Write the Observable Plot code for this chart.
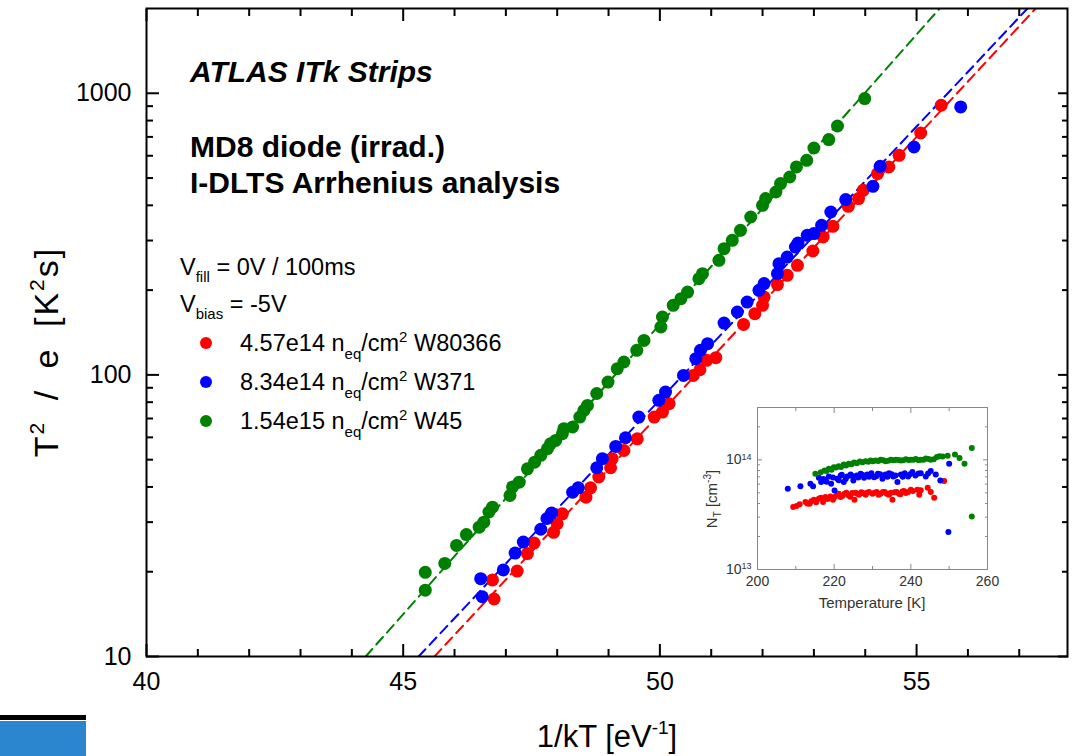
<!DOCTYPE html>
<html><head><meta charset="utf-8">
<script src="https://cdn.jsdelivr.net/npm/d3@7"></script>
<script src="https://cdn.jsdelivr.net/npm/@observablehq/plot@0.6"></script>
<style>
body{margin:0;background:#fff;font-family:"Liberation Sans",Arial,sans-serif;}
#wrap{position:relative;width:1073px;height:756px;overflow:hidden;background:#fff;}
#wrap svg{position:absolute;}
.bar1{position:absolute;left:0;top:715px;width:86px;height:5px;background:#000;}
.bar2{position:absolute;left:0;top:721px;width:86px;height:35px;background:#2c86cf;}
</style></head><body><div id="wrap"></div>
<script>
// ---- main chart data (1/kT [eV^-1], T^2/e [K^2 s]) ----
const redX = [46.77,46.74,47.22,47.42,47.55,47.93,48.00,48.10,48.56,48.65,48.81,49.04,49.07,49.30,49.56,49.89,50.05,50.18,50.65,50.78,50.91,51.09,51.63,51.85,52.00,52.03,52.29,52.48,52.68,52.98,53.18,53.37,53.67,53.87,53.96,54.24,54.46,54.66,55.08,55.48];
const redY = [16.0,18.7,20.1,23.2,25.3,27.6,29.6,32.1,36.8,39.7,43.4,46.8,50.4,53.9,59.3,70.8,73.8,79.0,99.6,104.3,112.6,115.1,151.1,165.0,176.6,189.0,209.2,225.7,244.9,275.4,308.8,336.9,396.8,422.6,452.3,518.4,547.4,602.1,722.8,906.8];
const blueX = [46.54,46.51,46.95,47.18,47.34,47.68,47.80,47.89,48.30,48.41,48.77,48.88,49.14,49.33,49.59,49.98,50.11,50.46,50.70,50.79,50.93,51.25,51.51,51.70,51.93,52.03,52.29,52.32,52.48,52.64,52.69,52.87,53.00,53.15,53.33,53.62,54.15,54.29,54.95,55.86];
const blueY = [16.3,18.9,20.3,23.3,25.5,28.3,30.9,32.3,38.3,39.7,46.8,50.4,55.7,59.8,70.8,81.2,86.9,99.6,114.2,122.2,129.1,152.8,167.2,181.4,199.6,210.9,228.8,248.3,262.1,284.4,293.9,313.1,317.5,339.7,378.8,419.4,467.3,550.5,644.5,894.1];
const greenX = [45.43,45.43,45.81,46.04,46.23,46.48,46.57,46.67,46.74,47.08,47.13,47.26,47.42,47.56,47.68,47.81,47.87,47.97,48.10,48.13,48.30,48.44,48.52,48.59,48.77,48.99,49.17,49.30,49.55,49.69,50.02,50.05,50.26,50.41,50.54,50.76,50.83,51.15,51.25,51.41,51.57,51.77,52.00,52.06,52.26,52.35,52.53,52.66,52.86,53.00,53.29,53.46,53.99];
const greenY = [17.2,19.9,21.4,24.8,27.1,28.8,30.0,32.6,33.9,37.3,40.0,41.6,46.4,49.0,51.8,54.7,57.0,58.5,61.8,64.4,65.3,70.8,74.8,77.9,85.9,94.3,105.2,111.1,122.2,132.6,147.9,160.5,176.6,186.5,196.8,219.6,228.8,255.1,280.7,300.5,326.1,363.6,400.1,422.6,446.1,477.8,504.4,547.4,578.1,639.2,684.6,765.3,957.6];
// Arrhenius fit lines: endpoints (x at y=10 and y=2000)
const fitRedX = [45.61,57.32], fitBlueX = [45.30,57.16], fitGreenX = [44.27,55.45], fitY = [10,2000];
// ticks
const xMajor = [40,45,50,55];
const xMinor = [41,42,43,44,46,47,48,49,51,52,53,54,56,57];
const yMajor = [10,100,1000];
const yMinor = [20,30,40,50,60,70,80,90,200,300,400,500,600,700,800,900];
// ---- inset data (Temperature [K], N_T [cm^-3]) ----
const insRedT = [209.3,211.0,212.5,213.6,214.7,216.0,217.1,217.7,219.0,219.7,220.8,221.7,222.7,223.8,224.7,225.3,226.0,227.1,228.2,229.1,230.0,231.1,232.1,233.2,234.3,235.2,235.8,236.9,237.8,238.7,240.0,241.7,242.2,242.6,244.4,245.2,246.1,248.7,210.2,213.0,214.0,215.3,216.5,218.3,220.2,221.2,222.2,223.2,224.2,225.6,226.5,227.6,228.6,230.5,231.6,232.7,233.7,234.8,236.3,237.3,238.2,239.3,240.5];
const insRedN = [3.71e13,3.93e13,4.12e13,3.98e13,4.33e13,4.42e13,4.12e13,4.58e13,4.63e13,4.33e13,4.81e13,4.58e13,4.9e13,4.73e13,4.98e13,4.33e13,4.9e13,5.05e13,4.81e13,5.08e13,4.9e13,5.1e13,4.9e13,5.08e13,4.81e13,4.33e13,5.05e13,4.9e13,5.15e13,4.98e13,5.33e13,5.33e13,4.81e13,5.27e13,5.56e13,5.08e13,4.51e13,6.4e13,3.8e13,4.0e13,4.2e13,4.1e13,4.5e13,4.4e13,4.6e13,4.9e13,4.7e13,5.0e13,4.6e13,5.0e13,4.8e13,4.95e13,5.0e13,5.0e13,4.8e13,5.1e13,4.9e13,5.0e13,5.1e13,4.85e13,5.2e13,5.1e13,5.2e13];
const insBlueT = [207.9,211.2,213.8,214.5,216.0,216.6,217.7,218.6,219.2,220.1,220.8,221.7,222.5,223.4,224.3,225.0,225.9,226.9,227.8,228.6,229.7,230.4,231.4,232.6,233.4,234.3,235.4,236.5,237.4,238.4,239.3,240.4,242.6,243.9,245.2,246.5,247.7,250.0,249.8,217.2,218.0,219.7,221.2,222.0,223.0,224.8,226.3,227.3,229.1,231.0,232.0,233.9,235.0,236.0,237.9,239.8,241.2,242.0,244.5];
const insBlueN = [5.45e13,5.73e13,6.05e13,5.73e13,6.86e13,6.27e13,6.49e13,7.05e13,6.05e13,5.26e13,6.71e13,7.2e13,6.27e13,7.05e13,7.35e13,6.49e13,7.2e13,7.46e13,6.86e13,7.35e13,7.56e13,6.95e13,7.46e13,6.71e13,7.35e13,7.56e13,7.05e13,6.27e13,7.35e13,7.56e13,7.05e13,7.73e13,7.56e13,7.05e13,7.89e13,7.35e13,6.49e13,9.2e13,2.2e13,6.7e13,6.3e13,6.9e13,6.5e13,7.3e13,6.7e13,7.1e13,6.9e13,7.3e13,7.0e13,7.1e13,7.4e13,7.0e13,7.4e13,7.2e13,7.0e13,7.4e13,7.2e13,7.5e13,7.5e13];
const insGreenT = [215.1,217.5,218.6,219.9,221.2,222.5,223.8,225.2,226.7,228.2,229.5,230.8,232.1,233.4,234.8,236.1,237.4,238.7,240.0,241.3,242.6,243.9,245.2,246.8,248.3,249.6,251.5,252.7,254.0,255.9,255.9,216.5,218.0,219.3,220.5,221.8,223.1,224.5,225.9,227.4,228.9,230.1,231.5,232.8,234.1,235.5,236.8,238.0,239.4,240.7,242.0,243.3,244.6,246.0,247.5];
const insGreenN = [7.46e13,8.0e13,8.28e13,8.57e13,8.76e13,9.07e13,9.2e13,9.45e13,9.65e13,9.72e13,9.86e13,9.86e13,1.0e14,9.72e13,1.0e14,1.0e14,9.86e13,1.01e14,1.0e14,1.02e14,1.0e14,1.03e14,1.0e14,1.06e14,1.07e14,1.09e14,1.12e14,1.04e14,9.2e13,1.28e14,3.05e13,7.7e13,7.9e13,8.1e13,8.5e13,8.6e13,8.9e13,9.1e13,9.3e13,9.5e13,9.6e13,9.7e13,9.75e13,9.9e13,9.8e13,9.9e13,9.95e13,9.9e13,9.95e13,1.0e14,9.9e13,1.0e14,1.02e14,1.01e14,1.08e14];
const insXMajor = [200,220,240,260], insXMinor = [210,230,250];
const insYMajor = [1e13,1e14], insYMinor = [2e13,3e13,4e13,5e13,6e13,7e13,8e13,9e13,2e14];
// ---- texts ----
const titleText = "ATLAS ITk Strips";
const subtitleLines = ["MD8 diode (irrad.)","I-DLTS Arrhenius analysis"];
const fluences = ["4.57e14","8.34e14","1.54e15"];
const wafers = ["W80366","W371","W45"];
const colors = ["#ff0000","#0000ff","#008000"];

const zip = (xs, ys) => xs.map((x, i) => ({x, y: ys[i]}));
const red = zip(redX, redY), blue = zip(blueX, blueY), green = zip(greenX, greenY);
const fits = [zip(fitRedX, fitY), zip(fitBlueX, fitY), zip(fitGreenX, fitY)];
const FONT = "'Liberation Sans', Arial, Helvetica, sans-serif";

// inward ticks: Plot axis ticks shifted inside the frame by their own length
const inX = (vals, anchor, len, stroke, sw) => Plot.axisX({anchor, ticks: vals, tickSize: len, dy: anchor === "bottom" ? -len : len, fill: "none", label: null, stroke, strokeWidth: sw});
const inY = (vals, anchor, len, stroke, sw) => Plot.axisY({anchor, ticks: vals, tickSize: len, dx: anchor === "left" ? len : -len, fill: "none", label: null, stroke, strokeWidth: sw});

const main = Plot.plot({
  width: 1073, height: 756,
  marginLeft: 146, marginRight: 6, marginTop: 8, marginBottom: 100,
  x: {domain: [40, 57.94]},
  y: {type: "log", domain: [10, 2000]},
  style: {fontFamily: FONT, color: "#000", background: "#fff", overflow: "visible"},
  marks: [
    ...fits.map((f, i) => Plot.line(f, {x: "x", y: "y", stroke: colors[i], strokeWidth: 2, strokeDasharray: "10,6", clip: true})),
    Plot.dot(red, {x: "x", y: "y", r: 6.5, fill: colors[0]}),
    Plot.dot(blue, {x: "x", y: "y", r: 6.5, fill: colors[1]}),
    Plot.dot(green, {x: "x", y: "y", r: 6.5, fill: colors[2]}),
    Plot.frame({stroke: "#000", strokeWidth: 2}),
    inX(xMajor, "bottom", 12, "#000", 2), inX(xMinor, "bottom", 7, "#000", 2),
    inX(xMajor, "top", 12, "#000", 2), inX(xMinor, "top", 7, "#000", 2),
    inY(yMajor, "left", 13, "#000", 2), inY(yMinor, "left", 7, "#000", 2),
    inY(yMajor, "right", 10, "#000", 2), inY(yMinor, "right", 6, "#000", 2),
    Plot.axisX({ticks: xMajor, tickSize: 0, tickPadding: 16, fontSize: 25, label: null, tickFormat: d => String(d)}),
    Plot.axisY({ticks: yMajor, tickSize: 0, tickPadding: 15, fontSize: 25, label: null, tickFormat: d => String(d)})
  ]
});
main.style.left = "0px"; main.style.top = "0px";

const s = d3.select(main).append("g").attr("font-family", FONT).attr("fill", "#000").attr("text-anchor", "start");
s.append("text").attr("x", 190).attr("y", 82).attr("font-size", 30).attr("font-weight", "bold").attr("font-style", "italic").text(titleText);
subtitleLines.forEach((t, i) => s.append("text").attr("x", 190).attr("y", 157 + i * 36).attr("font-size", 30).attr("font-weight", "bold").text(t));
// V fill / V bias
const LF = 23.5, SF = 15;
const v1 = s.append("text").attr("x", 180).attr("y", 275).attr("font-size", LF);
v1.append("tspan").text("V");
v1.append("tspan").attr("font-size", SF).attr("dy", 7).text("fill");
v1.append("tspan").attr("dy", -7).text(" = 0V / 100ms");
const v2 = s.append("text").attr("x", 180).attr("y", 312).attr("font-size", LF);
v2.append("tspan").text("V");
v2.append("tspan").attr("font-size", SF).attr("dy", 7).text("bias");
v2.append("tspan").attr("dy", -7).text(" = -5V");
// legend
const legY = [351, 390, 429];
fluences.forEach((f, i) => {
  s.append("circle").attr("cx", 206).attr("cy", legY[i] - 8).attr("r", 6).attr("fill", colors[i]);
  const t = s.append("text").attr("x", 240).attr("y", legY[i]).attr("font-size", LF);
  t.append("tspan").text(f + " n");
  t.append("tspan").attr("font-size", SF).attr("dy", 8).text("eq");
  t.append("tspan").attr("dy", -8).text("/cm");
  t.append("tspan").attr("font-size", SF).attr("dy", -9).text("2");
  t.append("tspan").attr("dy", 9).text(" " + wafers[i]);
});
// axis titles
const xl = s.append("text").attr("x", 607).attr("y", 747).attr("font-size", 31).attr("text-anchor", "middle");
xl.append("tspan").text("1/kT [eV");
xl.append("tspan").attr("font-size", 19).attr("dy", -13).text("-1");
xl.append("tspan").attr("dy", 13).text("]");
const yl = s.append("text").attr("transform", "translate(58,352) rotate(-90)").attr("font-size", 34).attr("letter-spacing", 2).attr("word-spacing", 9).attr("text-anchor", "middle");
yl.append("tspan").text("T");
yl.append("tspan").attr("font-size", 21).attr("dy", -14).text("2");
yl.append("tspan").attr("dy", 14).text(" / e [K");
yl.append("tspan").attr("font-size", 21).attr("dy", -14).text("2");
yl.append("tspan").attr("dy", 14).text("s]");

// ---- inset ----
const G = "#888";
const inset = Plot.plot({
  width: 295, height: 215,
  marginLeft: 57, marginRight: 8, marginTop: 7, marginBottom: 46,
  x: {domain: [200, 260]},
  y: {type: "log", domain: [1e13, 3e14]},
  style: {fontFamily: FONT, color: "#333", background: "transparent", overflow: "visible"},
  marks: [
    Plot.dot(zip(insRedT, insRedN), {x: "x", y: "y", r: 3, fill: colors[0]}),
    Plot.dot(zip(insBlueT, insBlueN), {x: "x", y: "y", r: 3, fill: colors[1]}),
    Plot.dot(zip(insGreenT, insGreenN), {x: "x", y: "y", r: 3, fill: colors[2]}),
    Plot.frame({stroke: G, strokeWidth: 1}),
    inX(insXMajor, "bottom", 5, G, 1), inX(insXMinor, "bottom", 3, G, 1),
    inX(insXMajor, "top", 5, G, 1), inX(insXMinor, "top", 3, G, 1),
    inY(insYMajor, "left", 5, G, 1), inY(insYMinor, "left", 3, G, 1),
    inY(insYMajor, "right", 5, G, 1), inY(insYMinor, "right", 3, G, 1),
    Plot.axisX({ticks: insXMajor, tickSize: 0, tickPadding: 7, fontSize: 14, label: null, tickFormat: d => String(d)}),
    Plot.axisY({ticks: insYMajor, tickSize: 0, tickPadding: 6, fontSize: 14, label: null, tickFormat: d => String(Math.round(Math.log10(d)))})
  ]
});
inset.style.left = "700px"; inset.style.top = "400px";
d3.select(inset).selectAll('g[aria-label="y-axis tick label"] text').each(function() {
  const e = this.textContent; this.textContent = "10";
  d3.select(this).append("tspan").attr("dy", "-0.5em").attr("font-size", "9px").text(e);
});
const si = d3.select(inset).append("g").attr("font-family", FONT).attr("fill", "#333");
si.append("text").attr("x", 172).attr("y", 208).attr("font-size", 15).attr("text-anchor", "middle").text("Temperature [K]");
const nl = si.append("text").attr("transform", "translate(17,99) rotate(-90)").attr("font-size", 15).attr("text-anchor", "middle");
nl.append("tspan").text("N");
nl.append("tspan").attr("font-size", 10).attr("dy", 4).text("T");
nl.append("tspan").attr("dy", -4).text(" [cm");
nl.append("tspan").attr("font-size", 10).attr("dy", -6).text("-3");
nl.append("tspan").attr("dy", 6).text("]");

const wrap = document.getElementById("wrap");
wrap.appendChild(main);
wrap.appendChild(inset);
const b1 = document.createElement("div"); b1.className = "bar1"; wrap.appendChild(b1);
const b2 = document.createElement("div"); b2.className = "bar2"; wrap.appendChild(b2);
</script>
</body></html>
